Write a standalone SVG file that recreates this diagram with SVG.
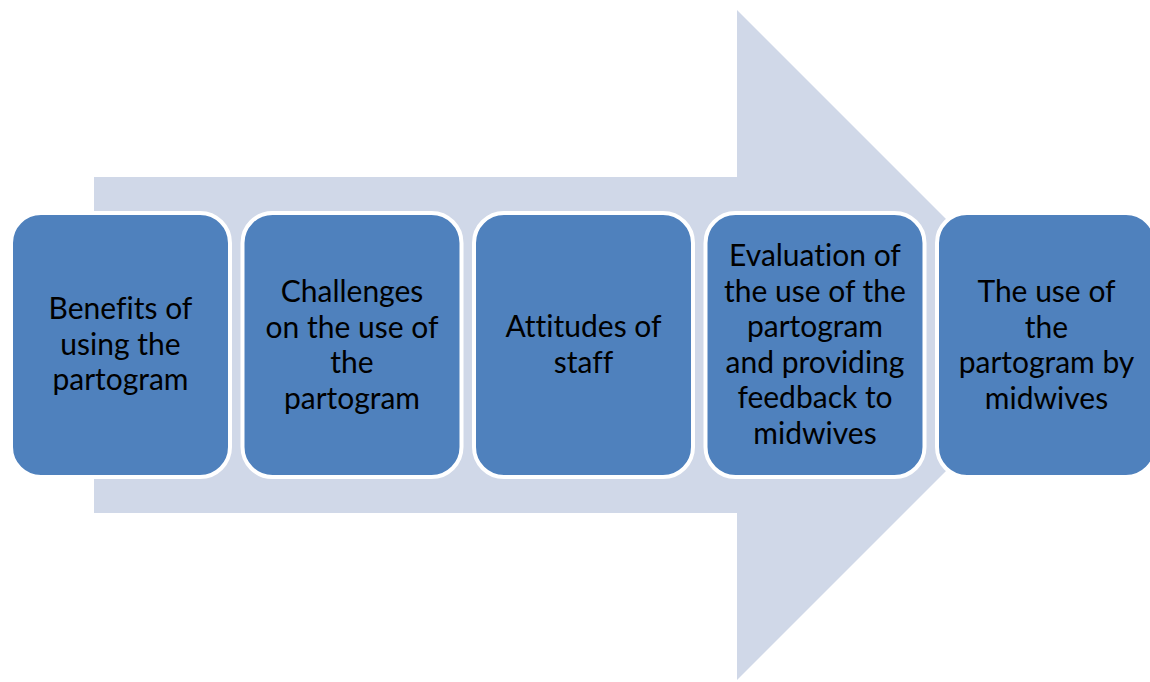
<svg xmlns="http://www.w3.org/2000/svg" width="1150" height="682" viewBox="0 0 1150 682">
<style>
.box{fill:#4F81BD;stroke:#FFFFFF;stroke-width:4}
.t{font-family:Lato,"Liberation Sans",sans-serif;font-size:30px;fill:#000000;text-anchor:middle;font-variant-ligatures:none}
</style>
<rect width="1150" height="682" fill="#FFFFFF"/>
<g id="arrow">
<polygon points="94,177 737,177 737,10 1072,345 737,680 737,513 94,513" fill="#D0D8E8"/>
</g>
<g id="node1">
<rect class="box" x="11" y="213" width="219" height="264" rx="30"/>
<text class="t" x="120.5" y="319">Benefits of</text>
<text class="t" x="120.5" y="355">using the</text>
<text class="t" x="120.5" y="390">partogram</text>
</g>
<g id="node2">
<rect class="box" x="242.5" y="213" width="219" height="264" rx="30"/>
<text class="t" x="352" y="302">Challenges</text>
<text class="t" x="352" y="337.5">on the use of</text>
<text class="t" x="352" y="373">the</text>
<text class="t" x="352" y="408.5">partogram</text>
</g>
<g id="node3">
<rect class="box" x="474" y="213" width="219" height="264" rx="30"/>
<text class="t" x="583.5" y="337">Attitudes of</text>
<text class="t" x="583.5" y="373">staff</text>
</g>
<g id="node4">
<rect class="box" x="705.5" y="213" width="219" height="264" rx="30"/>
<text class="t" x="815" y="266">Evaluation of</text>
<text class="t" x="815" y="301.5">the use of the</text>
<text class="t" x="815" y="337">partogram</text>
<text class="t" x="815" y="372.5">and providing</text>
<text class="t" x="815" y="408">feedback to</text>
<text class="t" x="815" y="443.5">midwives</text>
</g>
<g id="node5">
<rect class="box" x="937" y="213" width="219" height="264" rx="30"/>
<text class="t" x="1046.5" y="302">The use of</text>
<text class="t" x="1046.5" y="337.5">the</text>
<text class="t" x="1046.5" y="373">partogram by</text>
<text class="t" x="1046.5" y="408.5">midwives</text>
</g>
<g id="connectors"></g>
</svg>
